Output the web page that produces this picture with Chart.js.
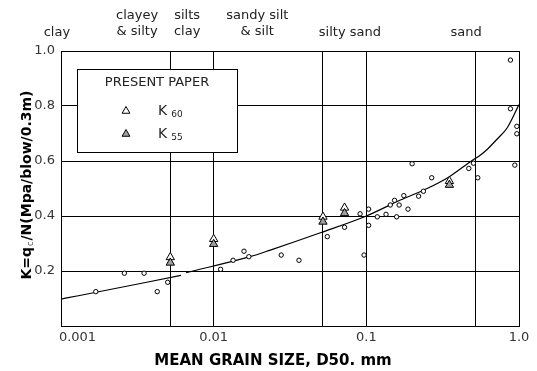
<!DOCTYPE html>
<html>
<head>
<meta charset="utf-8">
<script src="https://cdn.jsdelivr.net/npm/chart.js@4/dist/chart.umd.min.js"></script>
<style>
  html, body { margin: 0; padding: 0; background: #fff; }
  #wrap { width: 537px; height: 371px; position: relative; }
</style>
</head>
<body>
<div id="wrap"><canvas id="c" width="537" height="371"></canvas></div>
<script>
// ---------- data ----------
const categoryLabels = [["clay"], ["clayey", "& silty"], ["silts", "clay"], ["sandy silt", "& silt"], ["silty sand"], ["sand"]];
const categoryD50 = [0.00094, 0.00315, 0.0067, 0.0193, 0.078, 0.451];
const boundaryD50 = [0.0052, 0.01, 0.052, 0.1, 0.52];
const xTickValues = [0.001, 0.01, 0.1, 1.0];
const xTickLabels = ["0.001", "0.01", "0.1", "1.0"];
const yTickValues = [0.2, 0.4, 0.6, 0.8, 1.0];
const yTickLabels = ["0.2", "0.4", "0.6", "0.8", "1.0"];

const circleD50 = [0.00169, 0.0026, 0.0035, 0.00427, 0.0050, 0.0111, 0.0134, 0.0158, 0.017, 0.0277,
  0.0362, 0.0555, 0.072, 0.091, 0.0966, 0.1035, 0.1035, 0.118, 0.1346, 0.1435,
  0.153, 0.158, 0.164, 0.176, 0.1875, 0.1995, 0.22, 0.2365, 0.268, 0.469,
  0.503, 0.537, 0.879, 0.879, 0.939, 0.968, 0.968];
const circleK = [0.125, 0.192, 0.192, 0.125, 0.159, 0.206, 0.239, 0.272, 0.252, 0.258,
  0.239, 0.325, 0.359, 0.408, 0.258, 0.425, 0.366, 0.397, 0.406, 0.44,
  0.457, 0.397, 0.44, 0.474, 0.425, 0.59, 0.472, 0.49, 0.539, 0.573,
  0.592, 0.539, 0.967, 0.79, 0.585, 0.726, 0.699];

const k60D50 = [0.0052, 0.01, 0.052, 0.072, 0.35];
const k60 = [0.25, 0.316, 0.397, 0.43, 0.527];
const k55D50 = [0.0052, 0.01, 0.052, 0.072, 0.35];
const k55 = [0.23, 0.298, 0.379, 0.41, 0.513];

const curveD50 = [0.001, 0.0013, 0.0061, 0.0063, 0.0066, 0.0173, 0.0235, 0.05, 0.1, 0.167, 0.25, 0.35, 0.493, 0.56, 0.618, 0.72, 0.84, 1.0];
const curveK = [0.098, 0.110, 0.184, null, 0.194, 0.252, 0.276, 0.339, 0.40, 0.458, 0.50, 0.543, 0.602, 0.622, 0.642, 0.68, 0.722, 0.805];

const legendTitle = "PRESENT PAPER";
const legendSeries = [{ main: "K", sub: "60" }, { main: "K", sub: "55" }];
const xTitle = "MEAN GRAIN SIZE, D50. mm";
const yTitleParts = ["K=q", "c", "/N(Mpa/blow/0.3m)"];

// ---------- build ----------
const zip = (xs, ys) => xs.map((x, i) => ({ x: x, y: ys[i] }));
const FONT = "'DejaVu Sans', sans-serif";
const allXTicks = [0.001].concat(boundaryD50, [1.0]).sort((a, b) => a - b);

const overlay = {
  id: 'overlay',
  afterDatasetsDraw(chart) {
    const ctx = chart.ctx;
    ctx.save();
    const bx = 77.5, by = 69.5, bw = 160, bh = 83;
    ctx.fillStyle = '#fff';
    ctx.fillRect(bx, by, bw, bh);
    ctx.strokeStyle = '#000';
    ctx.lineWidth = 1;
    ctx.strokeRect(bx, by, bw, bh);
    ctx.fillStyle = '#222';
    ctx.font = '13px ' + FONT;
    ctx.textAlign = 'center';
    ctx.textBaseline = 'middle';
    ctx.fillText(legendTitle, 157, 83);
    const ds = [chart.data.datasets[1], chart.data.datasets[0]];
    const ys = [111, 134];
    legendSeries.forEach((s, i) => {
      const d = ds[i];
      ctx.fillStyle = d.pointBackgroundColor;
      ctx.strokeStyle = d.pointBorderColor;
      ctx.lineWidth = 1;
      Chart.helpers.drawPoint(ctx, { pointStyle: 'triangle', radius: 4.5, borderWidth: 1, rotation: 0 }, 126, ys[i]);
      ctx.fillStyle = '#222';
      ctx.textAlign = 'left';
      ctx.font = '14px ' + FONT;
      ctx.fillText(s.main, 158, ys[i]);
      const w = ctx.measureText(s.main).width;
      ctx.font = '9px ' + FONT;
      ctx.fillText(s.sub, 158 + w + 4, ys[i] + 4);
    });
    ctx.restore();
  },
  afterDraw(chart) {
    const ctx = chart.ctx;
    const sx = chart.scales.x;
    ctx.save();
    ctx.fillStyle = '#222';
    ctx.font = '13px ' + FONT;
    ctx.textAlign = 'center';
    ctx.textBaseline = 'middle';
    categoryLabels.forEach((lines, i) => {
      const px = sx.getPixelForValue(categoryD50[i]);
      if (lines.length === 2) {
        ctx.fillText(lines[0], px, 16);
        ctx.fillText(lines[1], px, 32);
      } else {
        ctx.fillText(lines[0], px, 33);
      }
    });
    ctx.fillStyle = '#000';
    ctx.font = 'bold 15px ' + FONT;
    ctx.fillText(xTitle, 273, 361);
    ctx.translate(27, 185);
    ctx.rotate(-Math.PI / 2);
    ctx.textAlign = 'left';
    const big = 'bold 14px ' + FONT, small = '8px ' + FONT;
    ctx.font = big; const w0 = ctx.measureText(yTitleParts[0]).width;
    ctx.font = small; const w1 = ctx.measureText(yTitleParts[1]).width;
    ctx.font = big; const w2 = ctx.measureText(yTitleParts[2]).width;
    let x0 = -(w0 + w1 + 2 + w2) / 2;
    ctx.font = big; ctx.fillText(yTitleParts[0], x0, 0);
    ctx.font = small; ctx.fillStyle = '#555'; ctx.fillText(yTitleParts[1], x0 + w0 + 1, 4);
    ctx.fillStyle = '#000';
    ctx.font = big; ctx.fillText(yTitleParts[2], x0 + w0 + w1 + 2, 0);
    ctx.restore();
  }
};

new Chart(document.getElementById('c'), {
  type: 'scatter',
  data: {
    datasets: [
      {
        label: 'K55', data: zip(k55D50, k55), order: 1,
        pointStyle: 'triangle', pointRadius: 4.8, pointBackgroundColor: '#a0a0a0',
        pointBorderColor: '#000', pointBorderWidth: 1
      },
      {
        label: 'K60', data: zip(k60D50, k60), order: 2,
        pointStyle: 'triangle', pointRadius: 4.8, pointBackgroundColor: '#fff',
        pointBorderColor: '#000', pointBorderWidth: 1
      },
      {
        label: 'data', data: zip(circleD50, circleK), order: 3,
        pointStyle: 'circle', pointRadius: 2.2, pointBackgroundColor: '#fff',
        pointBorderColor: '#000', pointBorderWidth: 1
      },
      {
        label: 'fit', data: zip(curveD50, curveK), order: 4,
        showLine: true, spanGaps: false, pointRadius: 0, borderColor: '#000',
        borderWidth: 1.2, cubicInterpolationMode: 'monotone', fill: false
      }
    ]
  },
  options: {
    responsive: false,
    devicePixelRatio: 1,
    animation: false,
    layout: { padding: { left: 0, top: 51, right: 18, bottom: 0 } },
    plugins: { legend: { display: false }, tooltip: { enabled: false } },
    scales: {
      x: {
        type: 'logarithmic', min: 0.001, max: 1.0,
        afterBuildTicks: (s) => { s.ticks = allXTicks.map(v => ({ value: v })); },
        afterFit: (s) => { s.height = 45; },
        ticks: {
          autoSkip: false, maxRotation: 0, minRotation: 0, padding: 4,
          color: '#333', font: { family: FONT, size: 13 },
          callback: (v, i) => {
            const k = xTickValues.findIndex(t => Math.abs(Math.log10(t) - Math.log10(v)) < 1e-6);
            if (k < 0) return '';
            return k === 0 ? '        ' + xTickLabels[k] : xTickLabels[k];
          }
        },
        grid: { color: '#000', lineWidth: 1, drawTicks: false },
        border: { color: '#000', width: 1 }
      },
      y: {
        min: 0, max: 1.0,
        afterBuildTicks: (s) => { s.ticks = [0].concat(yTickValues).map(v => ({ value: v })); },
        afterFit: (s) => { s.width = 61; },
        ticks: {
          padding: 6, color: '#333', font: { family: FONT, size: 13 },
          callback: (v) => {
            const k = yTickValues.findIndex(t => Math.abs(t - v) < 1e-6);
            return k < 0 ? '' : yTickLabels[k];
          }
        },
        grid: { color: '#000', lineWidth: 1, drawTicks: false },
        border: { color: '#000', width: 1 }
      }
    }
  },
  plugins: [overlay]
});
</script>
</body>
</html>
